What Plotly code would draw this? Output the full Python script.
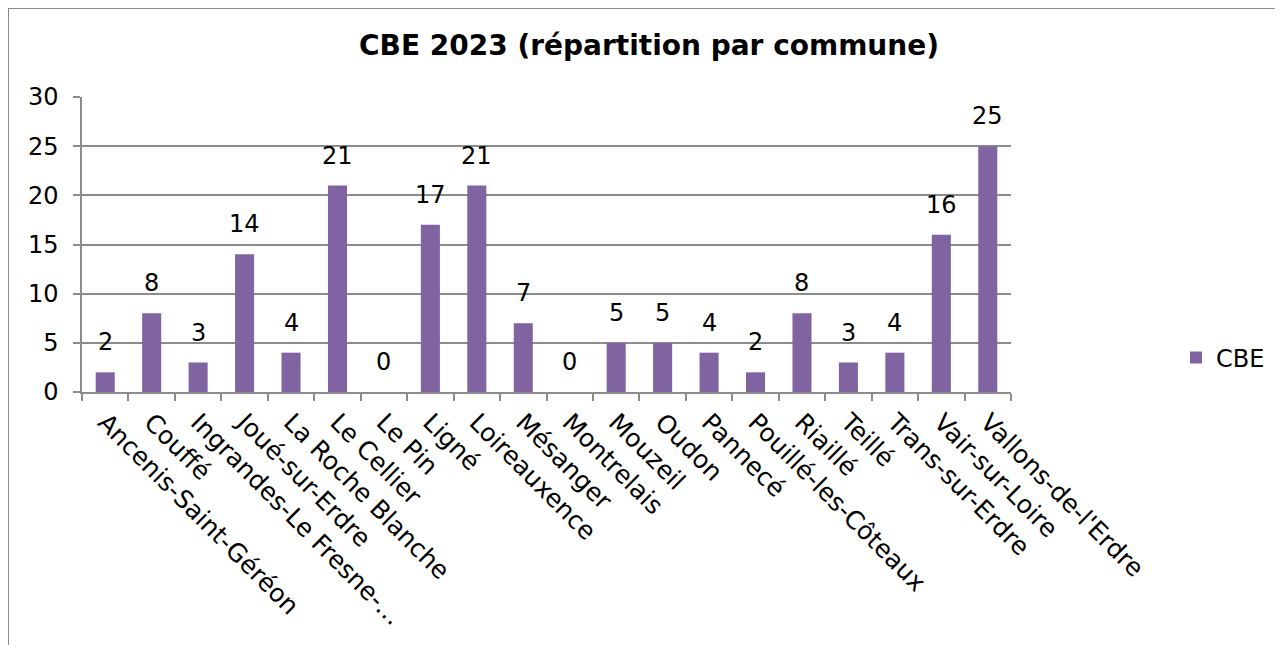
import plotly.graph_objects as go

communes = ["Ancenis-Saint-Géréon", "Couffé", "Ingrandes-Le Fresne-…", "Joué-sur-Erdre",
            "La Roche Blanche", "Le Cellier", "Le Pin", "Ligné", "Loireauxence", "Mésanger",
            "Montrelais", "Mouzeil", "Oudon", "Pannecé", "Pouillé-les-Côteaux", "Riaillé",
            "Teillé", "Trans-sur-Erdre", "Vair-sur-Loire", "Vallons-de-l'Erdre"]
cbe = [2, 8, 3, 14, 4, 21, 0, 17, 21, 7, 0, 5, 5, 4, 2, 8, 3, 4, 16, 25]
series_name = "CBE"
title_text = "CBE 2023 (répartition par commune)"

# page has an 8px body margin: figure coordinates = page coordinates - 8
W, H = 1275, 637
L, R, T, B = 74, 272, 89, 253
pw, ph = W - L - R, H - T - B

FONT = "DejaVu Sans, Verdana, sans-serif"
GRID = "#8c8c8c"
PURPLE = "#8064A2"
FS = 24

fig = go.Figure()
fig.add_trace(go.Bar(
    x=communes, y=cbe, name=series_name,
    marker=dict(color=PURPLE, line=dict(width=0)),
    cliponaxis=False,
))

# data labels placed above each bar through the axes
for c, v in zip(communes, cbe):
    fig.add_annotation(x=c, y=v, xref="x", yref="y", text=str(v), showarrow=False,
                       yanchor="bottom", xanchor="center", yshift=14,
                       font=dict(family=FONT, size=FS, color="#000000"))

fig.update_layout(
    width=W, height=H,
    margin=dict(l=L, r=R, t=T, b=B, autoexpand=False),
    paper_bgcolor="white", plot_bgcolor="white",
    bargap=0.59,
    showlegend=True,
    title=dict(text="<b>" + title_text + "</b>", x=(641 - L) / pw, xref="paper", xanchor="center",
               y=1 - 37 / H, yanchor="middle",
               font=dict(family=FONT, size=28, color="#000000")),
    legend=dict(x=(1168 - L) / pw, y=(384 - 358 + 8) / ph, xanchor="left", yanchor="middle",
                font=dict(family=FONT, size=FS, color="#000000"),
                bgcolor="rgba(0,0,0,0)"),
    font=dict(family=FONT, size=FS, color="#000000"),
)

fig.update_xaxes(
    type="category", tickangle=45, tickson="boundaries",
    ticks="outside", ticklen=7, tickcolor=GRID, tickwidth=1.5,
    showline=True, linecolor=GRID, linewidth=1.5,
    showgrid=False, ticklabelstandoff=4,
    tickfont=dict(family=FONT, size=25, color="#000000"),
)
fig.update_yaxes(
    range=[0, 30], dtick=5, tick0=0,
    ticks="outside", ticklen=7, tickcolor=GRID, tickwidth=1.5,
    showline=True, linecolor=GRID, linewidth=1.5,
    showgrid=True, gridcolor=GRID, gridwidth=1.5,
    zeroline=False, ticklabelstandoff=10,
    tickfont=dict(family=FONT, size=FS, color="#000000"),
)

# outer chart border (Excel chart area frame)
fig.add_shape(type="rect", xref="paper", yref="paper",
              x0=(0 - L) / pw, x1=(1300 - L) / pw,
              y0=-(700 - (H - B)) / ph, y1=1 + (T - 0) / ph,
              line=dict(color="#8c8c8c", width=2), fillcolor="rgba(0,0,0,0)", layer="below")

fig.write_html("out.html")
